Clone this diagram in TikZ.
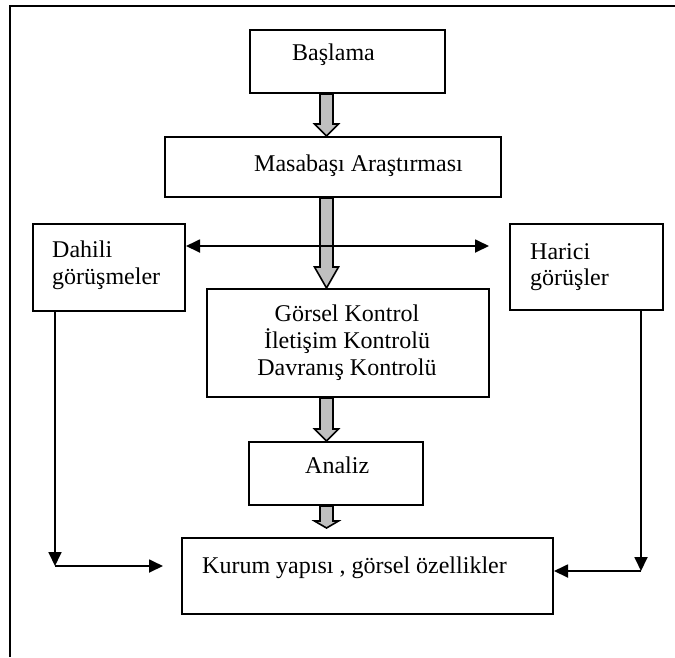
\documentclass[tikz,border=0pt]{standalone}
\usepackage{fontspec}
\setmainfont{Liberation Serif}
\usetikzlibrary{arrows.meta,calc}
\tikzset{
  box/.style={draw, line width=2pt, inner sep=0pt},
  txt/.style={inner sep=0pt, font=\fontsize{24}{28}\selectfont},
  grar/.style={draw, fill=black!25, line width=1.6pt, line join=miter},
  conn/.style={line width=1.8pt, -{Triangle[length=14pt,width=13pt]}},
  dbl/.style={line width=1.8pt, {Triangle[length=14pt,width=13pt]}-{Triangle[length=14pt,width=13pt]}},
  frame/.style={line width=2.6pt}
}
\newcommand\grayArr[3]{%
  \filldraw[grar] ($#1+(-6.5,0)$) -- ($#2+(-6.5,-#3)$) -- ($#2+(-12,-#3)$) -- #2
    -- ($#2+(12,-#3)$) -- ($#2+(6.5,-#3)$) -- ($#1+(6.5,0)$) -- cycle;}
\begin{document}
\begin{tikzpicture}[x=1pt,y=-1pt]
\useasboundingbox (0,0) rectangle (675,657);
\draw[frame] (10,657) -- (10,6) -- (675,6);

% boxes
\node[box, minimum width=195pt, minimum height=63pt] (start) at (347.5,61.5) {};
\node[box, minimum width=336pt, minimum height=60pt] (mas) at (333,167) {};
\node[box, minimum width=152pt, minimum height=87pt] (dahili) at (109,267.5) {};
\node[box, minimum width=153pt, minimum height=86pt] (harici) at (586.5,267) {};
\node[box, minimum width=282pt, minimum height=108pt] (mid) at (348,343) {};
\node[box, minimum width=174pt, minimum height=63pt] (an) at (336,473.5) {};
\node[box, minimum width=371pt, minimum height=76pt] (kurum) at (367.5,576) {};

% texts
\node[txt, anchor=base west] (startT) at (292,60) {Başlama};
\node[txt, anchor=base west] (masT) at (254,171) {Masabaşı Araştırması};
\node[txt, anchor=base west] (dahT1) at (52,257) {Dahili};
\node[txt, anchor=base west] (dahT2) at (52,284) {görüşmeler};
\node[txt, anchor=base west] (harT1) at (530,259) {Harici};
\node[txt, anchor=base west] (harT2) at (530,285) {görüşler};
\node[txt, anchor=base] (midT1) at (347,321) {Görsel Kontrol};
\node[txt, anchor=base] (midT2) at (347,348) {İletişim Kontrolü};
\node[txt, anchor=base] (midT3) at (347,375) {Davranış Kontrolü};
\node[txt, anchor=base west] (anT) at (305,473) {Analiz};
\node[txt, anchor=base west] (kurT) at (202,573) {Kurum yapısı , görsel özellikler};

% gray block arrows
\coordinate (ax) at (326.5,0);
\coordinate (a4tip) at (326.5,528);
\grayArr{(ax |- start.south)}{(ax |- mas.north)}{12}
\grayArr{(ax |- mas.south)}{(ax |- mid.north)}{21}
\grayArr{(ax |- mid.south)}{(ax |- an.north)}{12}
\grayArr{(ax |- an.south)}{(a4tip)}{7}

% connectors
\coordinate (dblR) at (489,246);
\draw[dbl] (dahili.east |- dblR) -- (dblR);
\coordinate (lc) at (55,566);
\coordinate (lt) at (163,566);
\draw[conn] (dahili.south -| lc) -- (lc);
\draw[conn] (lc) -- (lt);
\coordinate (rc) at (641,571);
\draw[conn] (harici.south -| rc) -- (rc);
\draw[conn] (rc) -- (kurum.east |- rc);
\end{tikzpicture}
\end{document}
